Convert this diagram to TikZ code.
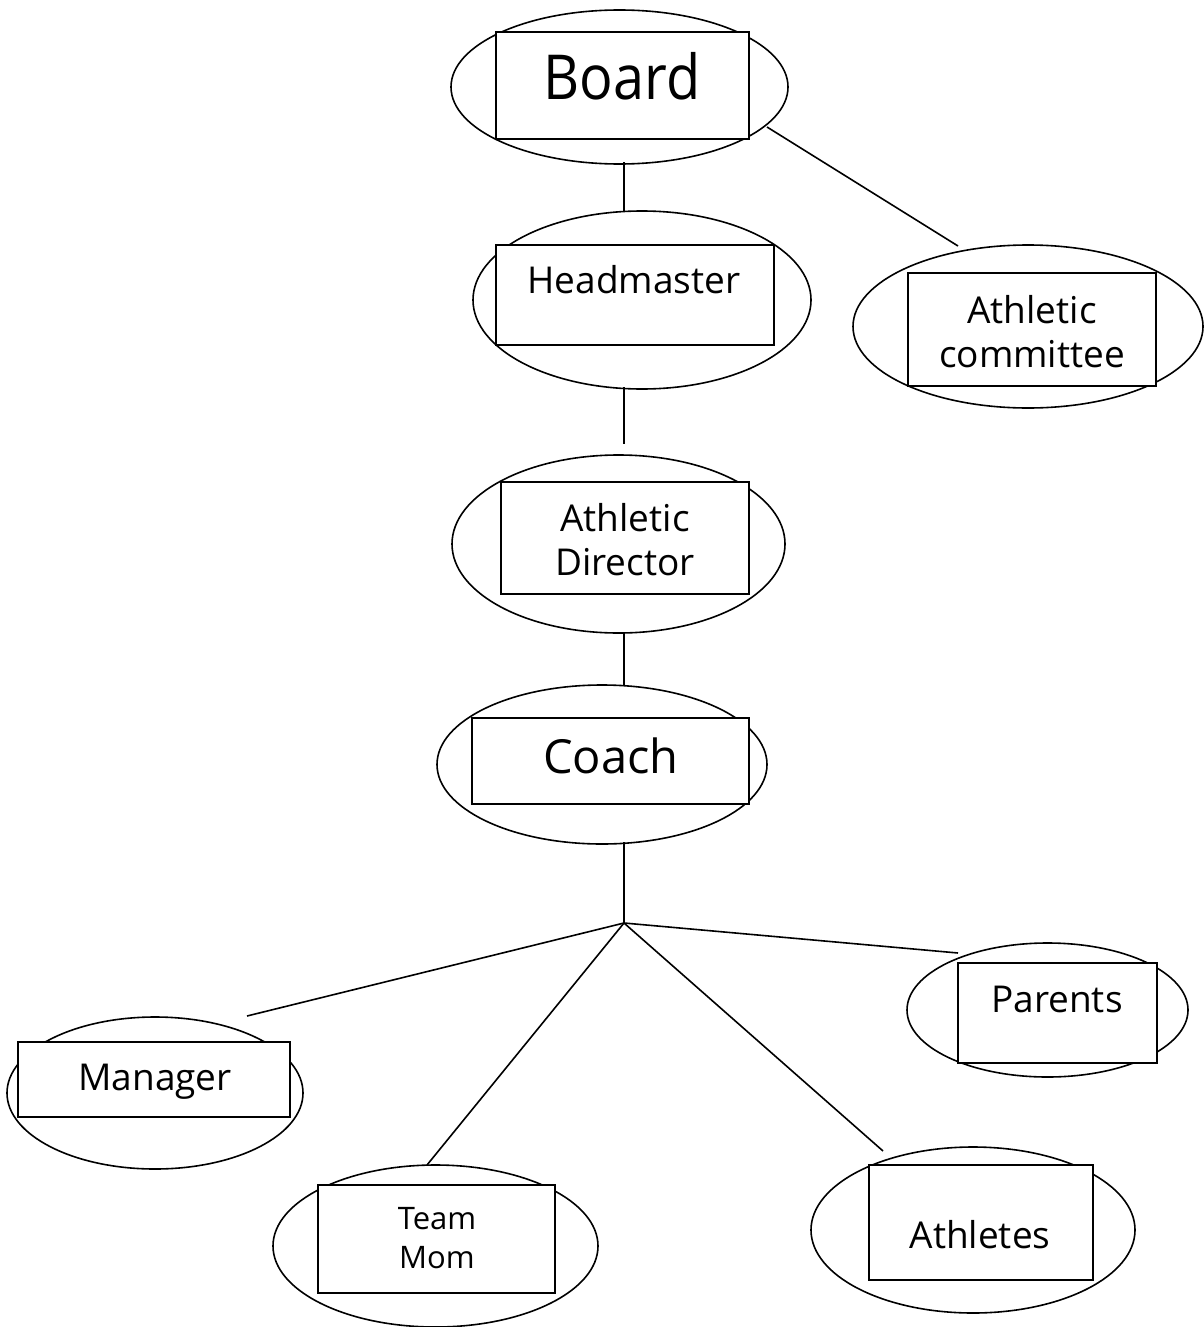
\documentclass[tikz,border=0pt]{standalone}
\usepackage{graphicx}
\usepackage{fontspec}
\setmainfont{Open Sans}
\usetikzlibrary{shapes.geometric}
\tikzset{
  ell/.style={draw, ellipse, line width=1.6pt, inner sep=0pt},
  box/.style={draw, rectangle, line width=1.6pt, inner sep=0pt, fill=white},
  txt/.style={anchor=base, inner sep=0pt},
  conn/.style={line width=1.6pt},
}
\begin{document}
\begin{tikzpicture}[x=1pt,y=-1pt]
\useasboundingbox (0,0) rectangle (1203,1327);
% Board
\node[ell, minimum width=337pt, minimum height=154pt] (eboard) at (619.5,87) {};
\node[box, minimum width=253pt, minimum height=107pt] (rboard) at (622.5,85.5) {};
\node[txt, font=\fontsize{62}{70}\selectfont] (tboard) at (622,100) {\scalebox{0.9}[1]{Board}};
% Headmaster
\node[ell, minimum width=338pt, minimum height=178pt] (ehead) at (642,300) {};
\node[box, minimum width=278pt, minimum height=100pt] (rhead) at (635,295) {};
\node[txt, font=\fontsize{37}{44}\selectfont] (thead) at (634,293) {Headmaster};
% Athletic committee
\node[ell, minimum width=350pt, minimum height=163pt] (ecomm) at (1028,326.5) {};
\node[box, minimum width=248pt, minimum height=113pt] (rcomm) at (1032,329.5) {};
\node[txt, font=\fontsize{37}{44}\selectfont] (tcomm1) at (1032,323) {Athletic};
\node[txt, font=\fontsize{37}{44}\selectfont] (tcomm2) at (1032,367) {committee};
% Athletic Director
\node[ell, minimum width=333pt, minimum height=178pt] (edir) at (618.5,544) {};
\node[box, minimum width=248pt, minimum height=112pt] (rdir) at (625,538) {};
\node[txt, font=\fontsize{37}{44}\selectfont] (tdir1) at (625,531) {Athletic};
\node[txt, font=\fontsize{37}{44}\selectfont] (tdir2) at (625,575) {Director};
% Coach
\node[ell, minimum width=330pt, minimum height=159pt] (ecoach) at (602,764.5) {};
\node[box, minimum width=277pt, minimum height=86pt] (rcoach) at (610.5,761) {};
\node[txt, font=\fontsize{47}{54}\selectfont] (tcoach) at (611,773) {Coach};
% Manager
\node[ell, minimum width=296pt, minimum height=152pt] (eman) at (155,1093) {};
\node[box, minimum width=272pt, minimum height=75pt] (rman) at (154,1079.5) {};
\node[txt, font=\fontsize{37}{44}\selectfont] (tman) at (155,1090) {Manager};
% Team Mom
\node[ell, minimum width=325pt, minimum height=162pt] (emom) at (435.5,1246) {};
\node[box, minimum width=237pt, minimum height=108pt] (rmom) at (436.5,1239) {};
\node[txt, font=\fontsize{31}{38}\selectfont] (tmom1) at (437,1229) {Team};
\node[txt, font=\fontsize{31}{38}\selectfont] (tmom2) at (437,1268) {Mom};
% Athletes
\node[ell, minimum width=324pt, minimum height=166pt] (eath) at (973,1230) {};
\node[box, minimum width=224pt, minimum height=115pt] (rath) at (981,1222.5) {};
\node[txt, font=\fontsize{37}{44}\selectfont] (tath) at (980,1248) {Athletes};
% Parents
\node[ell, minimum width=281pt, minimum height=134pt] (epar) at (1047.5,1010) {};
\node[box, minimum width=199pt, minimum height=100pt] (rpar) at (1057.5,1013) {};
\node[txt, font=\fontsize{37}{44}\selectfont] (tpar) at (1057,1012) {Parents};
% connector end points
\coordinate (c1a) at (624,162);
\coordinate (c1b) at (624,211);
\coordinate (c2a) at (767,127);
\coordinate (c2b) at (958,246);
\coordinate (c3a) at (624,387);
\coordinate (c3b) at (624,444);
\coordinate (c4a) at (624,633);
\coordinate (c4b) at (624,686);
\coordinate (c5a) at (624,842);
\coordinate (hub) at (624,923);
\coordinate (cman) at (247,1016);
\coordinate (cmom) at (427,1165);
\coordinate (cath) at (883,1151);
\coordinate (cpar) at (958,953);
\draw[conn] (c1a) -- (c1b);
\draw[conn] (c2a) -- (c2b);
\draw[conn] (c3a) -- (c3b);
\draw[conn] (c4a) -- (c4b);
\draw[conn] (c5a) -- (hub);
\draw[conn] (hub) -- (cman);
\draw[conn] (hub) -- (cmom);
\draw[conn] (hub) -- (cath);
\draw[conn] (hub) -- (cpar);
\end{tikzpicture}
\end{document}
